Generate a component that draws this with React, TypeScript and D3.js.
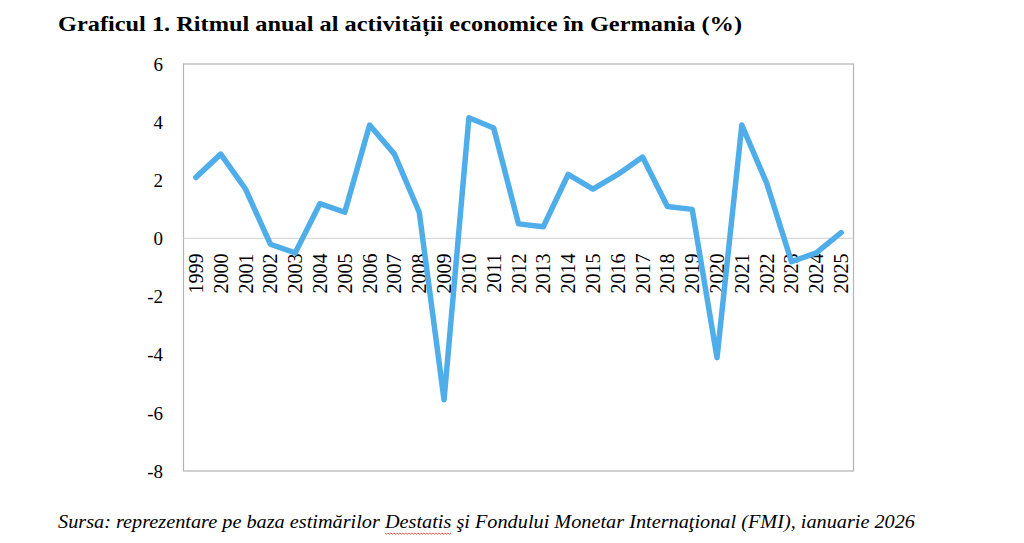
import { useEffect, useRef } from 'react'
import * as d3 from 'd3'

const years = [
  '1999', '2000', '2001', '2002', '2003', '2004', '2005', '2006', '2007',
  '2008', '2009', '2010', '2011', '2012', '2013', '2014', '2015', '2016',
  '2017', '2018', '2019', '2020', '2021', '2022', '2023', '2024', '2025',
]
const growth = [
  2.1, 2.9, 1.7, -0.2, -0.5, 1.2, 0.9, 3.9, 2.9,
  0.9, -5.55, 4.15, 3.8, 0.5, 0.4, 2.2, 1.7, 2.2,
  2.8, 1.1, 1.0, -4.1, 3.9, 1.9, -0.8, -0.5, 0.2,
]
const yTicks = [6, 4, 2, 0, -2, -4, -6, -8]

const TITLE = 'Graficul 1. Ritmul anual al activității economice în Germania (%)'
const SRC_A = 'Sursa: reprezentare pe baza estimărilor '
const SRC_B = 'Destatis'
const SRC_C = ' şi Fondului Monetar Internaţional (FMI), ianuarie 2026'

export default function App() {
  const ref = useRef<SVGSVGElement>(null)

  useEffect(() => {
    if (!ref.current) return
    const svg = d3.select(ref.current)
    svg.selectAll('*').remove()

    const width = 1024
    const height = 543
    const left = 183.5, right = 853.5, top = 64, bottom = 471
    const serif = "'Liberation Serif', 'DejaVu Serif', serif"

    svg.attr('width', width).attr('height', height)
      .style('font-family', serif)

    svg.append('rect').attr('width', width).attr('height', height).attr('fill', '#fff')

    // Title
    svg.append('text')
      .attr('x', 58).attr('y', 31)
      .style('font-family', serif).attr('font-weight', 'bold')
      .attr('font-size', '22px').attr('fill', '#000')
      .attr('textLength', 684).attr('lengthAdjust', 'spacingAndGlyphs')
      .text(TITLE)

    const x = d3.scaleBand().domain(years).range([left, right])
    const y = d3.scaleLinear().domain([-8, 6]).range([bottom, top])

    // Plot border
    svg.append('rect')
      .attr('x', left).attr('y', top)
      .attr('width', right - left).attr('height', bottom - top)
      .attr('fill', 'none').attr('stroke', '#b3b3b3').attr('stroke-width', 1.2)

    // Zero line
    svg.append('line')
      .attr('x1', left).attr('x2', right)
      .attr('y1', y(0)).attr('y2', y(0))
      .attr('stroke', '#d9d9d9').attr('stroke-width', 1.2)

    // Y tick labels
    svg.append('g').selectAll('text')
      .data(yTicks)
      .join('text')
      .attr('x', 163).attr('y', d => y(d))
      .attr('dy', '0.35em')
      .attr('text-anchor', 'end')
      .style('font-family', serif).attr('font-size', '19px').attr('fill', '#000')
      .text(d => `${d}`)

    // X labels, rotated, hanging below zero line
    svg.append('g').selectAll('text')
      .data(years)
      .join('text')
      .attr('transform', d => `translate(${x(d)! + x.bandwidth() / 2 + 7},${y(0) + 15}) rotate(-90)`)
      .attr('text-anchor', 'end')
      .style('font-family', serif).attr('font-size', '20px').attr('fill', '#000')
      .text(d => d)

    // Line
    const line = d3.line<number>()
      .x((_, i) => x(years[i])! + x.bandwidth() / 2)
      .y(d => y(d))

    svg.append('path')
      .datum(growth)
      .attr('d', line)
      .attr('fill', 'none')
      .attr('stroke', '#4faee9')
      .attr('stroke-width', 5.5)
      .attr('stroke-linejoin', 'round')
      .attr('stroke-linecap', 'round')

    // Source
    const src = svg.append('text')
      .attr('x', 58).attr('y', 528)
      .style('font-family', serif).attr('font-style', 'italic')
      .attr('font-size', '18px').attr('fill', '#000')
    src.append('tspan').text(SRC_A)
    src.append('tspan').text(SRC_B)
    src.append('tspan').text(SRC_C)

    // measure before stretching, then place the spell-check squiggle
    const node = src.node() as SVGTextElement
    const full = node.getComputedTextLength()
    const s0 = node.getSubStringLength(0, SRC_A.length)
    const s1 = node.getSubStringLength(SRC_A.length, SRC_B.length)
    const scale = 857 / full
    src.attr('textLength', 857).attr('lengthAdjust', 'spacingAndGlyphs')
    const wx0 = 58 + s0 * scale, wx1 = wx0 + s1 * scale
    const pts: [number, number][] = []
    for (let px = wx0, k = 0; px <= wx1; px += 1.5, k++) pts.push([px, 533 + (k % 2 ? 1.2 : 0)])
    svg.append('path')
      .attr('d', d3.line()(pts))
      .attr('fill', 'none').attr('stroke', '#e03030').attr('stroke-width', 0.8)
  }, [])

  return (
    <svg ref={ref} style={{ position: 'absolute', left: 0, top: 0, display: 'block' }} />
  )
}
